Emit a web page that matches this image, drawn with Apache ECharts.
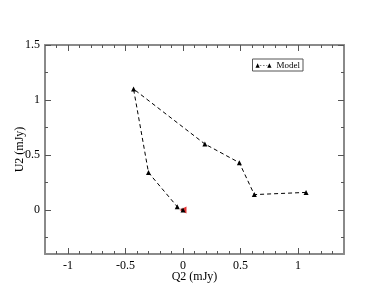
<!DOCTYPE html>
<html><head><meta charset="utf-8">
<script src="https://cdn.jsdelivr.net/npm/echarts@6/dist/echarts.min.js"></script>
<style>html,body{margin:0;padding:0;background:#fff}#c{width:388px;height:300px}</style>
</head><body><div id="c"></div>
<script>
var modelQ = [1.07, 0.62, 0.49, 0.19, -0.43, -0.30, -0.05, 0.0];
var modelU = [0.16, 0.14, 0.43, 0.60, 1.10, 0.34, 0.03, 0.0];
var startQ = [0.0];
var startU = [0.0];
var xTickLabels = [-1, -0.5, 0, 0.5, 1];
var xMinorTicks = [-1.1, -0.9, -0.8, -0.7, -0.6, -0.4, -0.3, -0.2, -0.1, 0.1, 0.2, 0.3, 0.4, 0.6, 0.7, 0.8, 0.9, 1.1, 1.2, 1.3];
var yTickLabels = [0, 0.5, 1, 1.5];
var yMinorTicks = [-0.25, 0.25, 0.75, 1.25];

var font = "'Liberation Serif', 'Times New Roman', serif";
var frame = '#8a8a8a';
function xAx(pos, vals, len, labels, idx) {
  return {type:'value', position:pos, min:-1.2, max:1.4, gridIndex:0,
    axisLine:{show: idx===0, onZero:false, lineStyle:{color:frame, width:2}},
    axisTick:{show:true, inside:true, length:len, customValues:vals, lineStyle:{color:'#555', width:1}},
    axisLabel:{show:labels, customValues:vals, color:'#000', fontFamily:font, fontSize:12, margin:6,
      formatter:function(v){return String(v);}},
    splitLine:{show:false}};
}
function yAx(pos, vals, len, labels, idx) {
  return {type:'value', position:pos, min:-0.4, max:1.5, gridIndex:0,
    axisLine:{show: idx===0, onZero:false, lineStyle:{color:frame, width:2}},
    axisTick:{show:true, inside:true, length:len, customValues:vals, lineStyle:{color:'#555', width:1}},
    axisLabel:{show:labels, customValues:vals, color:'#000', fontFamily:font, fontSize:12, margin:5,
      formatter:function(v){return String(v);}},
    splitLine:{show:false}};
}
var xAxes = [xAx('bottom', xTickLabels, 6, true, 0), xAx('bottom', xMinorTicks, 3, false, 1),
  xAx('top', xTickLabels, 6, false, 0), xAx('top', xMinorTicks, 3, false, 1)];
xAxes[0].name = 'Q2 (mJy)'; xAxes[0].nameLocation = 'middle'; xAxes[0].nameGap = 17;
xAxes[0].nameMoveOverlap = false;
xAxes[0].nameTextStyle = {color:'#000', fontFamily:font, fontSize:12, verticalAlign:'top'};
var yAxes = [yAx('left', yTickLabels, 6, true, 0), yAx('left', yMinorTicks, 3, false, 1),
  yAx('right', yTickLabels, 6, false, 0), yAx('right', yMinorTicks, 3, false, 1)];
yAxes[0].name = 'U2 (mJy)'; yAxes[0].nameLocation = 'middle'; yAxes[0].nameGap = 19;
yAxes[0].nameMoveOverlap = false;
yAxes[0].nameTextStyle = {color:'#000', fontFamily:font, fontSize:12};

var legendIcon = 'path://M0,10 L4,2 L8,10 Z M8,5.5 L11,5.5 L11,6.5 L8,6.5 Z M14,5.5 L17,5.5 L17,6.5 L14,6.5 Z M20,5.5 L22,5.5 L22,6.5 L20,6.5 Z M22,10 L26,2 L30,10 Z';

var chart = echarts.init(document.getElementById('c'), null, {renderer:'canvas'});
chart.setOption({
  animation:false,
  backgroundColor:'#fff',
  grid:{left:45, top:45, right:44, bottom:46, containLabel:false, outerBoundsMode:'none'},
  xAxis:xAxes,
  yAxis:yAxes,
  legend:{show:true, right:85, top:59, orient:'vertical', padding:[2,3,1,3], itemGap:0,
    borderColor:'#555', borderWidth:1, itemWidth:16, itemHeight:5,
    data:[{name:'Model', icon:legendIcon}],
    textStyle:{color:'#000', fontFamily:font, fontSize:9}},
  series:[
    {name:'Model', type:'line', xAxisIndex:0, yAxisIndex:0,
      data:modelQ.map(function(q,i){return [q, modelU[i]];}),
      symbol:'triangle', symbolSize:5, showAllSymbol:true,
      lineStyle:{color:'#000', width:1, type:[4,3]},
      itemStyle:{color:'#000'}},
    {name:'Start', type:'scatter', xAxisIndex:0, yAxisIndex:0,
      data:startQ.map(function(q,i){return [q, startU[i]];}),
      symbol:'triangle', symbolSize:7, symbolRotate:90,
      itemStyle:{color:'#e00000'}}
  ]
});
</script></body></html>
